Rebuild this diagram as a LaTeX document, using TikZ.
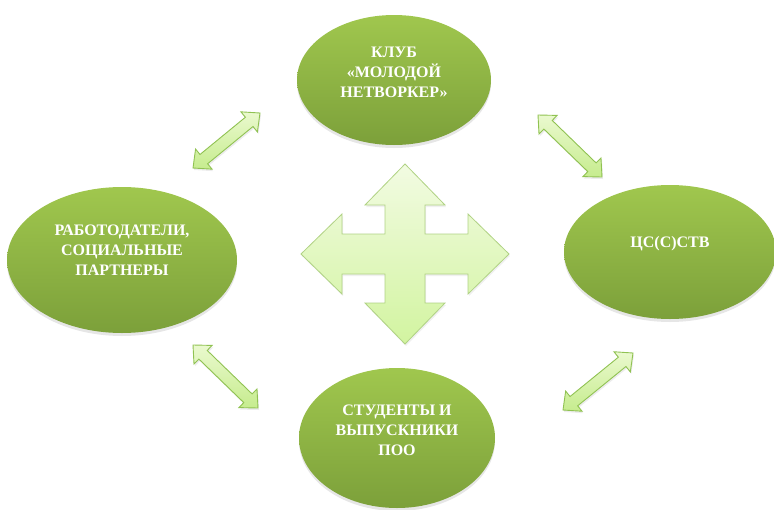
\documentclass[tikz,border=0pt]{standalone}
\usepackage{fontspec}
\setmainfont{Liberation Serif}
\usepackage{tikz}
\usetikzlibrary{shapes,shadows,calc}
\definecolor{ovaltop}{RGB}{160,199,78}
\definecolor{ovalbot}{RGB}{124,160,58}
\definecolor{crosstop}{RGB}{242,251,226}
\definecolor{crossbot}{RGB}{210,244,160}
\definecolor{crossline}{RGB}{176,210,132}
\definecolor{linktop}{RGB}{234,249,206}
\definecolor{linkbot}{RGB}{198,236,142}
\definecolor{linkline}{RGB}{144,194,82}
\tikzstyle{oval} = [ellipse, inner sep=0pt, top color=ovaltop, bottom color=ovalbot,
  drop shadow={shadow xshift=0pt, shadow yshift=-3pt, opacity=0.2}]
\tikzstyle{ovaltext} = [text=white, align=center, inner sep=0pt,
  font=\fontsize{16}{20}\selectfont\bfseries]
\tikzstyle{cross} = [top color=crosstop, bottom color=crossbot, draw=crossline,
  line width=0.8pt, drop shadow={shadow xshift=1pt, shadow yshift=-2pt, opacity=0.12}]
\tikzstyle{link} = [top color=linktop, bottom color=linkbot, draw=linkline,
  line width=0.9pt, drop shadow={shadow xshift=1pt, shadow yshift=-2pt, opacity=0.15}]
% fat two-headed arrow between two named points
\newcommand{\fatlink}[2]{%
  \draw[link] (#1) -- ($(#1)!14pt!(#2)!13pt!90:(#2)$) -- ($(#1)!14pt!(#2)!6pt!90:(#2)$)
    -- ($(#2)!14pt!(#1)!6pt!-90:(#1)$) -- ($(#2)!14pt!(#1)!13pt!-90:(#1)$) -- (#2)
    -- ($(#2)!14pt!(#1)!13pt!90:(#1)$) -- ($(#2)!14pt!(#1)!6pt!90:(#1)$)
    -- ($(#1)!14pt!(#2)!6pt!-90:(#2)$) -- ($(#1)!14pt!(#2)!13pt!-90:(#2)$) -- cycle;}

\begin{document}
\begin{tikzpicture}[x=1pt,y=-1pt]
\useasboundingbox (0,0) rectangle (774,509);

% Links between the ovals
\coordinate (nw1) at (193,168);
\coordinate (nw2) at (260,113);
\coordinate (ne1) at (538,115);
\coordinate (ne2) at (602,177);
\coordinate (sw1) at (193,345);
\coordinate (sw2) at (258,408);
\coordinate (se1) at (563,410);
\coordinate (se2) at (633,353);
\fatlink{nw1}{nw2}
\fatlink{ne1}{ne2}
\fatlink{sw1}{sw2}
\fatlink{se1}{se2}

% Central cross
\draw[cross, shift={(405,254)}] (0,-90) -- (40,-49) -- (20,-49) -- (20,-20) -- (63,-20)
  -- (63,-40) -- (104,0) -- (63,40) -- (63,20) -- (20,20) -- (20,49) -- (40,49)
  -- (0,90) -- (-40,49) -- (-20,49) -- (-20,20) -- (-63,20) -- (-63,40) -- (-104,0)
  -- (-63,-40) -- (-63,-20) -- (-20,-20) -- (-20,-49) -- (-40,-49) -- cycle;

% Ovals
\node[oval, minimum width=194pt, minimum height=130pt] (club) at (394,80) {};
\node[ovaltext] (clubtext) at ([yshift=8pt]club.center) {КЛУБ\\«МОЛОДОЙ\\НЕТВОРКЕР»};

\node[oval, minimum width=230pt, minimum height=146pt] (employers) at (122,260) {};
\node[ovaltext] (employerstext) at ([yshift=10pt]employers.center) {РАБОТОДАТЕЛИ,\\СОЦИАЛЬНЫЕ\\ПАРТНЕРЫ};

\node[oval, minimum width=212pt, minimum height=134pt] (centre) at (670,252) {};
\node[ovaltext] (centretext) at ([yshift=8pt]centre.center) {ЦС(С)СТВ};

\node[oval, minimum width=196pt, minimum height=140pt] (students) at (397,438) {};
\node[ovaltext] (studentstext) at ([yshift=8pt]students.center) {СТУДЕНТЫ И\\ВЫПУСКНИКИ\\ПОО};
\end{tikzpicture}
\end{document}
